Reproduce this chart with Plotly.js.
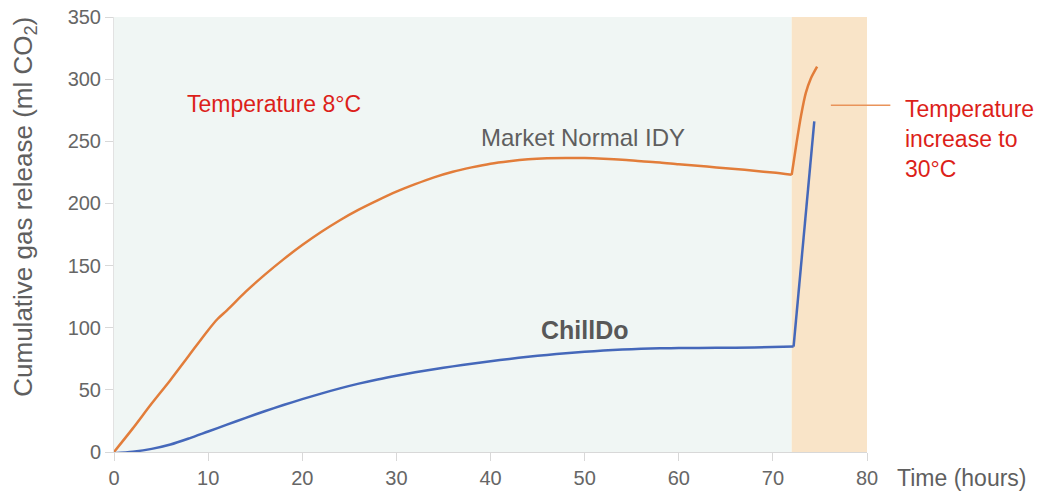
<!DOCTYPE html>
<html>
<head>
<meta charset="utf-8">
<script src="https://cdn.plot.ly/plotly-3.0.1.min.js"></script>
<style>html,body{margin:0;padding:0;background:#fff;}#chart{width:1047px;height:492px;}</style>
</head>
<body>
<div id="chart"></div>
<script>
// Market Normal IDY (orange)
const marketX = [0, 2, 4, 6, 8, 10, 11, 12, 14, 16, 18, 20, 22, 24, 26, 28, 30, 32, 34, 36, 38, 40, 42, 44, 46, 48, 50, 52, 54, 56, 58, 60, 62, 64, 66, 68, 70, 72, 72.5, 73, 73.5, 74, 74.7];
const marketY = [0, 19, 39, 58, 78, 98, 107, 114, 129, 142.5, 155, 166.5, 177, 186.5, 195, 202.5, 209.5, 215.5, 221, 225.5, 229, 232, 234, 235.5, 236.3, 236.6, 236.5, 236, 235.2, 234, 233, 231.5, 230.3, 229, 227.7, 226.3, 224.8, 223, 248, 271, 289, 300, 310];
// ChillDo (blue)
const chillX = [0, 2, 4, 6, 8, 10, 12, 14, 16, 18, 20, 22, 24, 26, 28, 30, 32, 34, 36, 38, 40, 42, 44, 46, 48, 50, 52, 54, 56, 58, 60, 64, 68, 72.2, 74.4];
const chillY = [-1, 0.3, 2.5, 6, 11, 16.5, 22, 27.5, 32.8, 37.8, 42.5, 47, 51.2, 55, 58.4, 61.4, 64.1, 66.6, 68.9, 71, 73, 74.9, 76.6, 78.1, 79.4, 80.6, 81.6, 82.4, 83, 83.4, 83.6, 83.8, 84.1, 84.8, 266];
const xTicks = [0, 10, 20, 30, 40, 50, 60, 70, 80];
const yTicks = [0, 50, 100, 150, 200, 250, 300, 350];
const coolPhase = [0, 72];   // 8°C period (hours)
const warmPhase = [72, 80];  // 30°C period (hours)

const FONT = 'Arial, "Liberation Sans", sans-serif';
const RED = '#dc1f1a';
const ORANGE = '#e27d3a';
const BLUE = '#4568ba';

// split each series at the temperature change so the corner stays sharp
function splitAt(xs, ys, xBreak) {
  const i = xs.findIndex(v => v >= xBreak);
  return [[xs.slice(0, i + 1), ys.slice(0, i + 1)], [xs.slice(i), ys.slice(i)]];
}
const [mA, mB] = splitAt(marketX, marketY, coolPhase[1]);
const [cA, cB] = splitAt(chillX, chillY, coolPhase[1]);

const traces = [
  {x: mA[0], y: mA[1], mode: 'lines', line: {color: ORANGE, width: 2.5, shape: 'spline', smoothing: 0.8}, hoverinfo: 'skip', showlegend: false},
  {x: mB[0], y: mB[1], mode: 'lines', line: {color: ORANGE, width: 2.5, shape: 'spline', smoothing: 0.8}, hoverinfo: 'skip', showlegend: false},
  {x: cA[0], y: cA[1], mode: 'lines', line: {color: BLUE, width: 2.5, shape: 'spline', smoothing: 0.8}, hoverinfo: 'skip', showlegend: false},
  {x: cB[0], y: cB[1], mode: 'lines', line: {color: BLUE, width: 2.5}, hoverinfo: 'skip', showlegend: false}
];

const layout = {
  width: 1047, height: 492,
  margin: {l: 114, r: 180, t: 17, b: 40},
  paper_bgcolor: '#ffffff', plot_bgcolor: '#ffffff',
  font: {family: FONT, color: '#666666'},
  xaxis: {
    range: [0, 80], tickvals: xTicks, ticktext: xTicks.map(String),
    showgrid: false, zeroline: false, showline: true, linecolor: '#d8d8d8', linewidth: 1,
    ticks: 'outside', ticklen: 8, tickcolor: '#d8d8d8',
    tickfont: {family: FONT, size: 20, color: '#666666'}
  },
  yaxis: {
    range: [0, 350], tickvals: yTicks, ticktext: yTicks.map(String),
    showgrid: false, zeroline: false, showline: true, linecolor: '#e2e2e2', linewidth: 1,
    ticks: 'outside', ticklen: 8, tickcolor: '#d8d8d8',
    tickfont: {family: FONT, size: 20, color: '#666666'}
  },
  shapes: [
    {type: 'rect', xref: 'x', yref: 'y', x0: coolPhase[0], x1: coolPhase[1], y0: 0, y1: 350, fillcolor: '#f0f6f4', line: {width: 0}, layer: 'below'},
    {type: 'rect', xref: 'x', yref: 'y', x0: warmPhase[0], x1: warmPhase[1], y0: 0, y1: 350, fillcolor: '#f9e4c8', line: {width: 0}, layer: 'below'},
    {type: 'line', xref: 'paper', yref: 'y', x0: 0.952, x1: 1.031, y0: 279, y1: 279, line: {color: '#e9935a', width: 1.5}}
  ],
  annotations: [
    {xref: 'paper', yref: 'paper', x: -0.12, y: 0.563, xanchor: 'center', yanchor: 'middle', textangle: -90,
     text: 'Cumulative gas release (ml CO<sub>2</sub>)', showarrow: false, font: {family: FONT, size: 26, color: '#5f5f5f'}},
    {xref: 'paper', yref: 'paper', x: 1.037, y: -0.06, xanchor: 'left', yanchor: 'middle',
     text: 'Time (hours)', showarrow: false, font: {family: FONT, size: 23, color: '#5f5f5f'}},
    {xref: 'x', yref: 'y', x: 7.5, y: 280, xanchor: 'left', yanchor: 'middle',
     text: 'Temperature 8°C', showarrow: false, font: {family: FONT, size: 23, color: RED}},
    {xref: 'x', yref: 'y', x: 49.8, y: 253, xanchor: 'center', yanchor: 'middle',
     text: 'Market Normal IDY', showarrow: false, font: {family: FONT, size: 24, color: '#5f5f5f'}},
    {xref: 'x', yref: 'y', x: 50.05, y: 98, xanchor: 'center', yanchor: 'middle',
     text: '<b>ChillDo</b>', showarrow: false, font: {family: FONT, size: 25, color: '#585858'}},
    {xref: 'paper', yref: 'y', x: 1.048, y: 252, xanchor: 'left', yanchor: 'middle', align: 'left',
     text: 'Temperature<br>increase to<br>30°C', showarrow: false, font: {family: FONT, size: 23, color: RED}}
  ]
};

Plotly.newPlot('chart', traces, layout, {staticPlot: true, displayModeBar: false});
</script>
</body>
</html>
